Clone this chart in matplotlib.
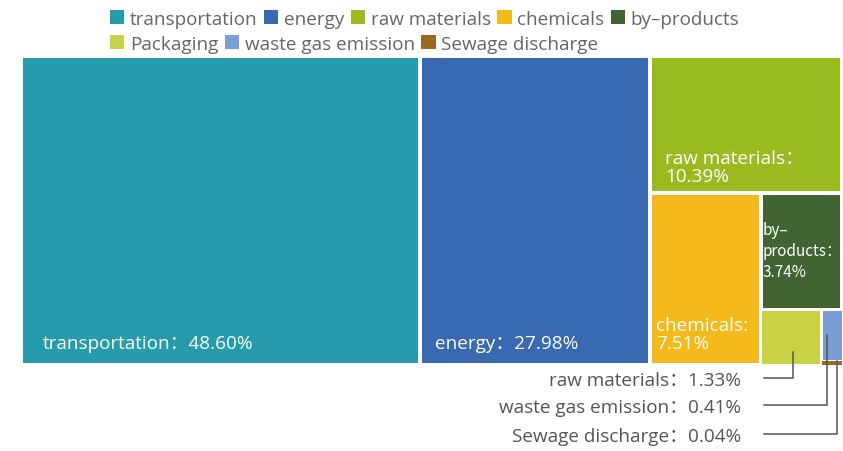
import matplotlib
matplotlib.use("Agg")
import matplotlib.pyplot as plt
from matplotlib.patches import Rectangle, Patch

plt.rcParams['font.family'] = ['Open Sans', 'Noto Sans CJK SC', 'DejaVu Sans']

# ---- data ----
categories = ["transportation", "energy", "raw materials", "chemicals", "by–products",
              "Packaging", "waste gas emission", "Sewage discharge"]
values = [48.60, 27.98, 10.39, 7.51, 3.74, 1.33, 0.41, 0.04]
inner_labels = ["transportation：48.60%", "energy：27.98%", "raw materials：\n10.39%",
                "chemicals:\n7.51%", "by–\nproducts：\n3.74%", None, None, None]
outer_labels = [None, None, None, None, None,
                "raw materials：1.33%", "waste gas emission：0.41%", "Sewage discharge：0.04%"]
colors = ["#259BAC", "#3869B1", "#9ABB1F", "#F4B91A", "#416532",
          "#C9D245", "#789FD5", "#9A6A22"]

# nesting of the treemap (h = side by side, v = stacked)
tree = ('h', [0, 1, ('v', [2, ('h', [3, ('v', [4, ('h', [5, ('v', [6, 7])])])])])])


def node_size(n):
    if isinstance(n, int):
        return values[n]
    return sum(node_size(c) for c in n[1])


def layout(n, x0, y0, x1, y1, out):
    if isinstance(n, int):
        out[n] = (x0, y0, x1, y1)
        return
    d, kids = n
    tot = node_size(n)
    pos = x0 if d == 'h' else y0
    for k in kids:
        frac = node_size(k) / tot
        if d == 'h':
            w = (x1 - x0) * frac
            layout(k, pos, y0, pos + w, y1, out)
        else:
            w = (y1 - y0) * frac
            layout(k, x0, pos, x1, pos + w, out)
        pos += w


W, H = 843, 452
FS = 13.6
fig = plt.figure(figsize=(W / 100, H / 100), dpi=100)
ax = fig.add_axes([0, 0, 1, 1])
ax.set_xlim(0, W)
ax.set_ylim(H, 0)
ax.axis('off')

rects = {}
layout(tree, 20.5, 56.5, 842.5, 366.5, rects)
insets = [2.25, 2.25, 2.25, 2.25, 2.25, 1.5, 1.0, 0.5]

handles = []
for i, cat in enumerate(categories):
    x0, y0, x1, y1 = rects[i]
    g = insets[i]
    ax.add_patch(Rectangle((x0 + g, y0 + g), x1 - x0 - 2 * g, y1 - y0 - 2 * g,
                           facecolor=colors[i], edgecolor='none'))
    handles.append(Patch(facecolor=colors[i], edgecolor='none', label=cat))

# inner labels: (offset from left, offset from bottom, fontsize, linespacing, family)
base_fam = ['Open Sans', 'Noto Sans CJK SC', 'DejaVu Sans']
narrow_fam = ['Noto Sans CJK SC', 'DejaVu Sans']
label_off = {0: (22, 13, FS, 1.0, base_fam), 1: (15, 13, FS, 1.0, base_fam),
             2: (15, 8, FS, 1.0, base_fam), 3: (6, 13, FS, 1.0, base_fam),
             4: (2, 30, 11.0, 1.3, narrow_fam)}
for i, (dx, dy, fs, ls, fam) in label_off.items():
    x0, y0, x1, y1 = rects[i]
    ax.text(x0 + dx, y1 - dy, inner_labels[i], color='white', fontsize=fs,
            ha='left', va='bottom', linespacing=ls, family=fam)

# outer labels with leader lines
text_y = {5: 381, 6: 408, 7: 437}
start = {5: (0.53, 0.75), 6: (0.25, 0.5), 7: (0.75, 0.0)}
for i in (5, 6, 7):
    x0, y0, x1, y1 = rects[i]
    fx, fy = start[i]
    sx = x0 + (x1 - x0) * fx
    sy = y0 + (y1 - y0) * fy
    ty = text_y[i] - 2
    ax.plot([sx, sx, 764], [sy, ty, ty], color='#555555', lw=1.1,
            solid_joinstyle='miter')
    ax.text(741, text_y[i], outer_labels[i], color='#555555', fontsize=FS,
            ha='right', va='center')

common = dict(frameon=False, handlelength=0.75, handleheight=0.75, handletextpad=0.3,
              columnspacing=0.35, borderpad=0, borderaxespad=0,
              labelcolor='#666666', prop={'size': FS})
leg1 = fig.legend(handles=handles[:5], ncol=5, loc='upper left',
                  bbox_to_anchor=(110 / W, 1 - 11 / H), **common)
leg2 = fig.legend(handles=handles[5:], ncol=3, loc='upper left',
                  bbox_to_anchor=(110 / W, 1 - 36 / H), **common)

fig.savefig("out.png", dpi=100)
